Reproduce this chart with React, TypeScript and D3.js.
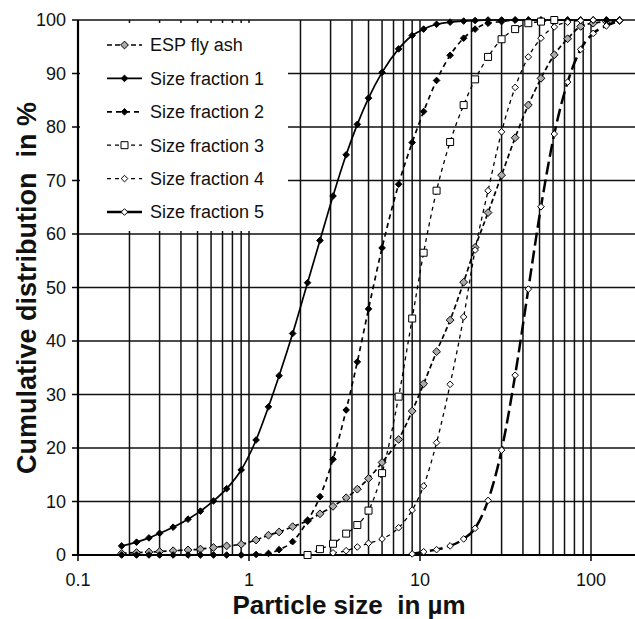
import React from "react";
import * as d3 from "d3";

// particle size classes in µm (shared by all series)
const sizes = [
  0.18, 0.22, 0.26, 0.3, 0.36, 0.44, 0.52, 0.62, 0.74, 0.9, 1.1, 1.3, 1.5,
  1.8, 2.2, 2.6, 3.1, 3.7, 4.3, 5.0, 6.0, 7.5, 9.0, 10.5, 12.5, 15, 18, 21,
  25, 30, 36, 43, 51, 61, 73, 87, 103, 123, 147,
];

// cumulative distribution in %, null = not plotted
const espFlyAsh = [
  0.3, 0.45, 0.55, 0.65, 0.8, 0.95, 1.1, 1.4, 1.7, 2.0, 2.8, 3.7, 4.3, 5.3,
  6.4, 7.7, 9.1, 10.7, 12.3, 14.3, 17.3, 21.6, 26.9, 32, 38, 43.9, 51, 57.5,
  64, 71, 78, 84.1, 89.1, 93.5, 96.5, 98.8, 99.4, 99.7, 99.9,
];
const fraction1 = [
  1.7, 2.4, 3.2, 4.05, 5.2, 6.7, 8.2, 10.1, 12.4, 15.9, 21.5, 27.7, 33.5,
  41.4, 50.9, 58.8, 67.1, 74.8, 80.5, 85.4, 90.2, 94.6, 97.1, 98.3, 99.2,
  99.6, 99.8, 99.9, 100, 100, 100, 100, 100, 100, 100, 100, 100, 100, 100,
];
const fraction2 = [
  0, 0, 0, 0, 0, 0, 0, 0, 0, 0, 0.1, 0.3, 1.0, 2.5, 6.4, 10.9, 17.9, 27.1,
  36.1, 46, 57.4, 69.3, 77.1, 82.9, 88.7, 93.4, 96.6, 98.3, 99.4, 99.7, 100,
  100, 100, 100, 100, 100, 100, 100, 100,
];
const fraction3 = [
  null, null, null, null, null, null, null, null, null, null, null, null,
  null, null, 0, 1.1, 2.1, 4.0, 5.6, 8.3, 15.3, 29.6, 44.2, 56.5, 68.1, 77.2,
  84.1, 88.9, 93.1, 96.4, 98.3, 99.4, 99.7, 100, null, null, null, null, null,
];
const fraction4 = [
  null, null, null, null, null, null, null, null, null, null, null, null,
  null, null, null, null, 0.4, 0.8, 1.5, 2.2, 3.0, 5.1, 8.4, 12.9, 21, 31.9,
  44.5, 57, 68.1, 79.1, 87.4, 93.1, 96.6, 98.7, 99.6, 99.9, 100, null, null,
];
const fraction5 = [
  null, null, null, null, null, null, null, null, null, null, null, null,
  null, null, null, null, null, null, null, null, null, null, 0.2, 0.6, 1.0,
  1.7, 3.0, 5.0, 10.2, 19.6, 33.6, 49.7, 65.1, 78.7, 88.4, 94.5, 97.5, 98.9,
  99.9,
];

const seriesNames = [
  "ESP fly ash",
  "Size fraction 1",
  "Size fraction 2",
  "Size fraction 3",
  "Size fraction 4",
  "Size fraction 5",
];
const xTicks = [0.1, 1, 10, 100];
const yTicks = [0, 10, 20, 30, 40, 50, 60, 70, 80, 90, 100];

const styles = [
  { values: espFlyAsh, dash: "5,3", width: 1.7, marker: "diamond", fill: "#aaa", r: 3.9 },
  { values: fraction1, dash: "none", width: 1.7, marker: "diamond", fill: "#000", r: 3.3 },
  { values: fraction2, dash: "5,4", width: 1.7, marker: "diamond", fill: "#000", r: 3.3 },
  { values: fraction3, dash: "4,4", width: 1.3, marker: "square", fill: "#fff", r: 3.5 },
  { values: fraction4, dash: "4,4", width: 1.3, marker: "diamond", fill: "#fff", r: 3.3 },
  { values: fraction5, dash: "13,5", width: 2.5, marker: "diamond", fill: "#fff", r: 3.3 },
];

const W = 635;
const H = 619;
const left = 78;
const top = 20;
const bottom = 555;
const right = 635;
const font = "'Liberation Sans', Arial, sans-serif";

function markerPath(type: string, r: number) {
  if (type === "square") return `M${-r},${-r}h${2 * r}v${2 * r}h${-2 * r}Z`;
  return `M0,${-r}L${r},0L0,${r}L${-r},0Z`;
}

export default function App() {
  const x = d3.scaleLog().domain([0.1, 100]).range([left, 591]);
  const y = d3.scaleLinear().domain([0, 100]).range([bottom, top]);

  const minor: number[] = [];
  [0.1, 1, 10].forEach((d) => {
    for (let k = 2; k <= 9; k++) minor.push(d * k);
  });
  const vLines = [...minor, 1, 10, 100];

  const line = d3
    .line<[number, number]>()
    .x((d) => x(d[0]))
    .y((d) => y(d[1]))
    .curve(d3.curveMonotoneX);

  const legendBox = { x: 80, y: 23, w: 208, h: 208 };

  return (
    <svg
      width={W}
      height={H}
      style={{ position: "absolute", left: 0, top: 0, background: "#fff" }}
      fontFamily={font}
    >
      <defs>
        <clipPath id="plot">
          <rect x={left} y={top - 6} width={right - left} height={bottom - top + 12} />
        </clipPath>
      </defs>
      {/* grid */}
      {vLines.map((v) => (
        <line key={"v" + v} x1={x(v)} x2={x(v)} y1={top} y2={bottom} stroke="#111" strokeWidth={1.5} />
      ))}
      {yTicks.map((t) => (
        <line key={"h" + t} x1={left} x2={right} y1={y(t)} y2={y(t)} stroke="#111" strokeWidth={1.5} />
      ))}
      {/* legend background hides grid */}
      <rect x={legendBox.x} y={legendBox.y} width={legendBox.w} height={legendBox.h} fill="#fff" />
      {/* axes */}
      <line x1={left} x2={left} y1={top} y2={bottom + 1} stroke="#000" strokeWidth={2.2} />
      <line x1={left - 6} x2={right} y1={bottom} y2={bottom} stroke="#000" strokeWidth={2.2} />
      {yTicks.map((t) => (
        <g key={"yt" + t}>
          <line x1={left - 6} x2={left} y1={y(t)} y2={y(t)} stroke="#000" strokeWidth={1.5} />
          <text x={66} y={y(t)} dy="0.35em" textAnchor="end" fontSize={18} fill="#111">
            {t}
          </text>
        </g>
      ))}
      {xTicks.map((t) => (
        <g key={"xt" + t}>
          <line x1={x(t)} x2={x(t)} y1={bottom} y2={bottom + 6} stroke="#000" strokeWidth={1.5} />
          <text x={x(t)} y={580} dy="0.35em" textAnchor="middle" fontSize={18} fill="#111">
            {t}
          </text>
        </g>
      ))}
      {/* series */}
      <g clipPath="url(#plot)">
        {styles.map((s, i) => {
          const pts = sizes
            .map((d, j) => [d, s.values[j]] as [number, number | null])
            .filter((p) => p[1] !== null) as [number, number][];
          return (
            <g key={"s" + i}>
              <path
                d={line(pts) || ""}
                fill="none"
                stroke="#000"
                strokeWidth={s.width}
                strokeDasharray={s.dash}
              />
              {pts.map((p, j) => (
                <path
                  key={j}
                  d={markerPath(s.marker, s.r)}
                  transform={`translate(${x(p[0])},${y(p[1])})`}
                  fill={s.fill}
                  stroke="#000"
                  strokeWidth={1}
                />
              ))}
            </g>
          );
        })}
      </g>
      {/* legend */}
      {seriesNames.map((name, i) => {
        const s = styles[i];
        const ly = 45 + i * 33.4;
        return (
          <g key={"l" + i}>
            <line x1={107} x2={142} y1={ly} y2={ly} stroke="#000" strokeWidth={s.width} strokeDasharray={s.dash === "13,5" ? "none" : s.dash} />
            <path d={markerPath(s.marker, s.r)} transform={`translate(124.5,${ly})`} fill={s.fill} stroke="#000" strokeWidth={1} />
            <text x={150} y={ly} dy="0.35em" fontSize={18} fill="#111">
              {name}
            </text>
          </g>
        );
      })}
      {/* titles */}
      <text
        x={349}
        y={605}
        dy="0.35em"
        textAnchor="middle"
        fontSize={26}
        fontWeight="bold"
        fill="#111"
        style={{ whiteSpace: "pre" }}
      >
        {"Particle size  in µm"}
      </text>
      <text
        transform="translate(27,288) rotate(-90)"
        dy="0.35em"
        textAnchor="middle"
        fontSize={27}
        fontWeight="bold"
        fill="#111"
        style={{ whiteSpace: "pre" }}
      >
        {"Cumulative distribution  in %"}
      </text>
    </svg>
  );
}
